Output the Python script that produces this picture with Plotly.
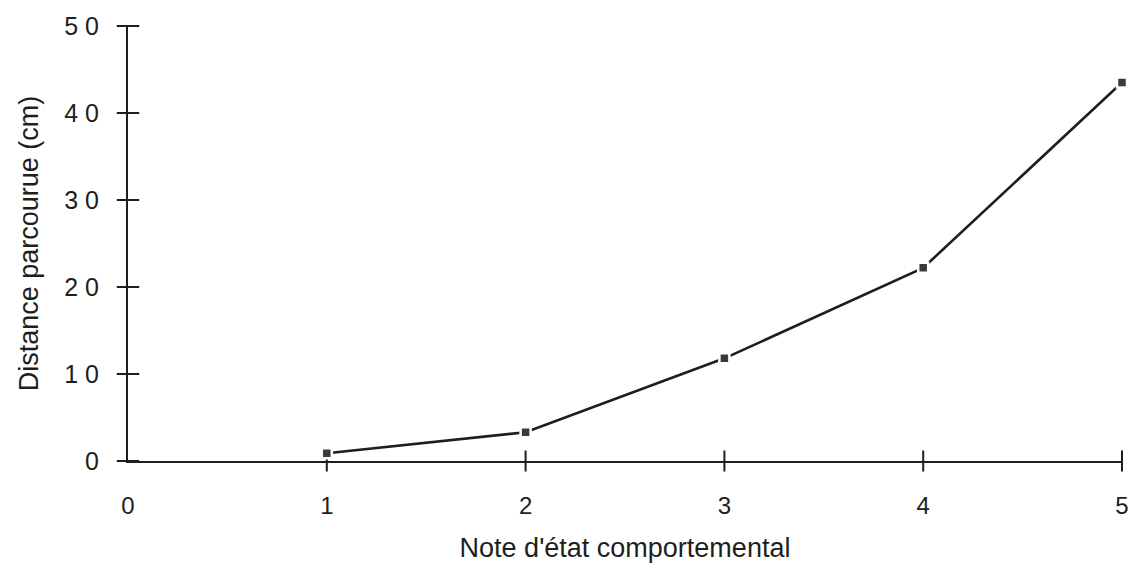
import plotly.graph_objects as go

# Data
note = [1, 2, 3, 4, 5]
distance = [0.9, 3.3, 11.8, 22.2, 43.5]

x_ticks = [0, 1, 2, 3, 4, 5]
x_ticklabels = ["0", "1", "2", "3", "4", "5"]
y_ticks = [0, 10, 20, 30, 40, 50]
y_ticklabels = ["0", "1 0", "2 0", "3 0", "4 0", "5 0"]

FONT = "Liberation Sans, Arial, Helvetica, sans-serif"
INK = "#1e1e1e"

fig = go.Figure()

# crossing tick marks (drawn through the axes' own scales at the tick values)
fig.add_trace(go.Scatter(
    x=x_ticks[1:], y=[0] * len(x_ticks[1:]), mode="markers",
    marker=dict(symbol="line-ns", size=15, line=dict(color=INK, width=2)),
    hoverinfo="skip", showlegend=False, cliponaxis=False,
))
fig.add_trace(go.Scatter(
    x=[0] * len(y_ticks), y=y_ticks, mode="markers",
    marker=dict(symbol="line-ew", size=16, line=dict(color=INK, width=2)),
    hoverinfo="skip", showlegend=False, cliponaxis=False,
))

fig.add_trace(go.Scatter(
    x=note, y=distance, mode="lines+markers",
    line=dict(color=INK, width=2.6),
    marker=dict(symbol="square", size=10, color="#3a3a3a",
                line=dict(color="white", width=2.5)),
    showlegend=False, cliponaxis=False,
))

fig.update_layout(
    width=1147, height=580,
    margin=dict(l=128, r=25, t=20, b=119),
    paper_bgcolor="white", plot_bgcolor="white",
    font=dict(family=FONT, color=INK, size=20),
    xaxis=dict(
        range=[0, 5], tickmode="array", tickvals=x_ticks, ticktext=x_ticklabels,
        showgrid=False, zeroline=False, showline=True, linecolor=INK, linewidth=2,
        ticks="", ticklabelstandoff=22,
        tickfont=dict(size=24, color=INK),
        title=dict(text="Note d'état comportemental", font=dict(size=27, color=INK), standoff=20),
    ),
    yaxis=dict(
        range=[0, 50], tickmode="array", tickvals=y_ticks, ticktext=y_ticklabels,
        showgrid=False, zeroline=False, showline=True, linecolor=INK, linewidth=2,
        ticks="", ticklabelstandoff=22,
        tickfont=dict(size=25, color=INK),
        title=dict(text="Distance parcourue (cm)", font=dict(size=27, color=INK), standoff=18),
    ),
)

fig.write_html("out.html")
